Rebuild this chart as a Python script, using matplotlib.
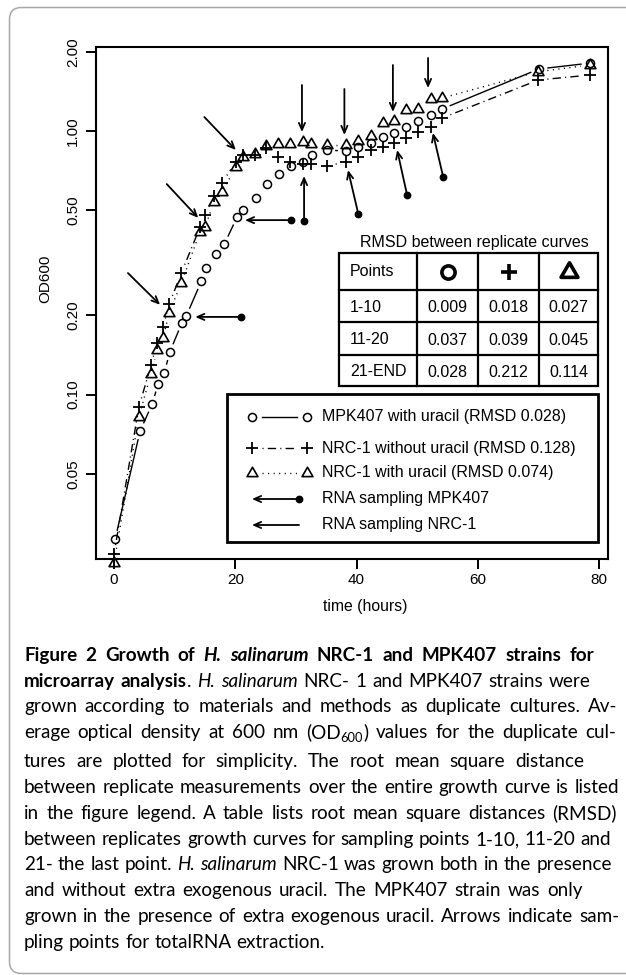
import numpy as np
import matplotlib
matplotlib.use("Agg")
import matplotlib.pyplot as plt
from matplotlib.path import Path
from matplotlib.patches import Rectangle, FancyBboxPatch
from matplotlib.ticker import NullLocator
from matplotlib import font_manager

plt.rcParams['font.family'] = ['Liberation Sans', 'DejaVu Sans']

# ---- data --------------------------------------------------------------
# MPK407 with uracil
t_mpk = [0.2, 4.3, 6.3, 7.3, 8.3, 9.2, 11.2, 11.9, 14.4, 15.2, 16.8, 18.2, 20.3, 21.3,
         23.4, 25.2, 27.2, 29.2, 31.2, 32.6, 35.1, 38.3, 40.3, 42.4, 44.4, 46.2, 48.2,
         50.2, 52.3, 54.1, 70.1, 78.5]
od_mpk = [0.0283, 0.0727, 0.092, 0.110, 0.121, 0.145, 0.187, 0.198, 0.269, 0.302, 0.341,
          0.372, 0.472, 0.501, 0.557, 0.629, 0.687, 0.737, 0.763, 0.811, 0.847, 0.839,
          0.870, 0.900, 0.949, 0.983, 1.035, 1.091, 1.150, 1.212, 1.72, 1.81]
# NRC-1 (same sampling times for both cultures)
t_nrc = [0, 4.1, 6.1, 7.1, 8.1, 9.1, 11.1, 14.2, 15.0, 16.5, 17.8, 20.1, 21.3, 23.3, 25.1,
         27.1, 29.0, 31.1, 32.5, 35.1, 38.3, 40.3, 42.4, 44.4, 46.2, 48.2, 50.2, 52.3,
         54.1, 70.0, 78.5]
od_nrc_nou = [0.0248, 0.0896, 0.129, 0.157, 0.180, 0.220, 0.289, 0.432, 0.480, 0.567,
              0.635, 0.763, 0.811, 0.811, 0.862, 0.797, 0.763, 0.750, 0.750, 0.737, 0.763,
              0.797, 0.847, 0.870, 0.900, 0.941, 0.991, 1.035, 1.120, 1.562, 1.631]
od_nrc_u = [0.0229, 0.0822, 0.120, 0.147, 0.164, 0.204, 0.265, 0.414, 0.432, 0.538, 0.587,
            0.730, 0.797, 0.818, 0.877, 0.893, 0.893, 0.908, 0.893, 0.885, 0.885, 0.916,
            0.957, 1.072, 1.091, 1.201, 1.212, 1.323, 1.334, 1.68, 1.78]

# RNA sampling arrows: (tail time, tail OD, head time, head OD)
arr_mpk = [(21.0, 0.197, 13.4, 0.197), (29.2, 0.459, 21.6, 0.459),
           (31.35, 0.455, 31.35, 0.675), (40.3, 0.484, 38.6, 0.711),
           (48.35, 0.571, 46.7, 0.847), (54.3, 0.669, 52.6, 0.983)]
arr_nrc = [(2.3, 0.289, 7.6, 0.219), (8.7, 0.629, 13.9, 0.468),
           (14.9, 1.130, 20.1, 0.847), (31.0, 1.495, 31.0, 0.991),
           (38.0, 1.443, 38.0, 0.966), (46.0, 1.780, 46.0, 1.181),
           (51.8, 1.893, 51.8, 1.456)]

rmsd_rows = ['1-10', '11-20', '21-END']
rmsd_mpk = ['0.009', '0.037', '0.028']
rmsd_nou = ['0.018', '0.039', '0.212']
rmsd_u = ['0.027', '0.045', '0.114']

legend_labels = ['MPK407 with uracil (RMSD 0.028)',
                 'NRC-1 without uracil (RMSD 0.128)',
                 'NRC-1 with uracil (RMSD 0.074)',
                 'RNA sampling MPK407',
                 'RNA sampling NRC-1']

yticks = [0.05, 0.10, 0.20, 0.50, 1.00, 2.00]
ytick_labels = ['0.05', '0.10', '0.20', '0.50', '1.00', '2.00']
xticks = [0, 20, 40, 60, 80]

# ---- styles ---------------------------------------------------------------
tri = Path([(-1, -0.577), (1, -0.577), (0, 1.155), (-1, -0.577)],
           [Path.MOVETO, Path.LINETO, Path.LINETO, Path.CLOSEPOLY])
dotdash = (0, (0.8, 3, 6, 3))
dotted = (0, (0.8, 3.2))
series = [
    (t_mpk, od_mpk, dict(marker='o', ms=5.8, mew=1.1), '-'),
    (t_nrc, od_nrc_nou, dict(marker='+', ms=8.5, mew=1.3), dotdash),
    (t_nrc, od_nrc_u, dict(marker=tri, ms=9, mew=1.2), dotted),
]

W, H = 626, 975
fig = plt.figure(figsize=(W / 100, H / 100), dpi=100)
ax = fig.add_axes([96 / W, 1 - 559 / H, 512 / W, 512 / H])
ax.set_yscale('log')
ax.set_xlim(-2.97, 81.48)
ax.set_ylim(0.02375, 2.084)
ax.set_xticks(xticks)
ax.set_yticks(yticks)
ax.set_yticklabels(ytick_labels, rotation=90, va='center')
ax.yaxis.set_minor_locator(NullLocator())
ax.tick_params(direction='out', length=7, width=1.4, labelsize=11)
ax.tick_params(axis='x', pad=3)
ax.tick_params(axis='y', pad=4.3)
for sp in ax.spines.values():
    sp.set_linewidth(1.5)
ax.text(-0.0996, 0.547, 'OD600', rotation=90, ha='center', va='center',
        fontsize=11, transform=ax.transAxes)
ax.text(0.525, -0.0918, 'time (hours)', ha='center', va='center',
        fontsize=11.3, transform=ax.transAxes)


def gapped(ax, t, v, gap, **kw):
    # R type="b": segments stop short of the points
    pts = ax.transData.transform(np.column_stack([t, v]))
    inv = ax.transData.inverted()
    for p, q in zip(pts[:-1], pts[1:]):
        d = q - p
        L = np.hypot(d[0], d[1])
        if L <= 2 * gap:
            continue
        u = d / L
        s = inv.transform(np.array([p + u * gap, q - u * gap]))
        ax.plot(s[:, 0], s[:, 1], color='black', **kw)


for t, v, mk, ls in series:
    gapped(ax, t, v, 9, lw=1.0, ls=ls)
    ax.plot(t, v, ls='none', color='black', mfc='none', clip_on=False, **mk)

ar = dict(arrowstyle='->,head_length=0.5,head_width=0.22', lw=1.3, color='black',
          shrinkA=0, shrinkB=0)
for t0, v0, t1, v1 in arr_mpk:
    ax.annotate('', xy=(t1, v1), xytext=(t0, v0), arrowprops=ar)
    ax.plot(t0, v0, 'o', ms=4.6, color='black')
for t0, v0, t1, v1 in arr_nrc:
    ax.annotate('', xy=(t1, v1), xytext=(t0, v0), arrowprops=ar)

# ---- overlay in pixel coordinates: frame, table, legend, caption ---------
ov = fig.add_axes([0, 0, 1, 1], zorder=5)
ov.set_xlim(0, W)
ov.set_ylim(H, 0)
ov.axis('off')

ov.add_patch(FancyBboxPatch((9.5, 7.5), 650, 966, boxstyle='round,pad=0,rounding_size=12',
                            ec='#a8a8a8', fc='none', lw=1.1))

# RMSD table
ov.text(474, 243, 'RMSD between replicate curves', ha='center', va='center', fontsize=11.5)
tx0, tx1 = 339, 598
ty = [253, 290, 322, 355, 386]
cx = [339, 417, 478, 539, 598]
ov.add_patch(Rectangle((tx0, ty[0]), tx1 - tx0, ty[-1] - ty[0], fc='white', ec='black', lw=1.6))
for y in ty[1:-1]:
    ov.plot([tx0, tx1], [y, y], color='black', lw=1.6)
for x in cx[1:-1]:
    ov.plot([x, x], [ty[0], ty[-1]], color='black', lw=1.6)
ov.text(350, 272, 'Points', va='center', fontsize=11.5)
head_mk = [dict(marker='o', ms=9.5, mew=2.6), dict(marker='+', ms=12, mew=2.6),
           dict(marker=tri, ms=14, mew=2.6)]
for i, mk in enumerate(head_mk):
    ov.plot((cx[i + 1] + cx[i + 2]) / 2, 272, ls='none', color='black', mfc='none', **mk)
for r in range(3):
    yc = (ty[r + 1] + ty[r + 2]) / 2 + 1
    ov.text(350, yc, rmsd_rows[r], va='center', fontsize=11.5)
    for c, col in enumerate([rmsd_mpk, rmsd_nou, rmsd_u]):
        ov.text((cx[c + 1] + cx[c + 2]) / 2, yc + 1, col[r], ha='center', va='center',
                fontsize=11.5)

# legend
ov.add_patch(Rectangle((227, 394), 371, 148, fc='white', ec='black', lw=2.0))
rows_y = [417, 448, 473, 499, 525]
for (t, v, mk, ls), y in zip(series, rows_y[:3]):
    ov.plot([252, 307], [y, y], ls='none', color='black', mfc='none', **mk)
    ov.plot([262, 297], [y, y], color='black', lw=1.0, ls=ls)
ov.annotate('', xy=(252, rows_y[3]), xytext=(299, rows_y[3]), arrowprops=ar)
ov.plot(299, rows_y[3], 'o', ms=4.6, color='black')
ov.annotate('', xy=(252, rows_y[4]), xytext=(299, rows_y[4]), arrowprops=ar)
for lab, y in zip(legend_labels, rows_y):
    ov.text(322, y, lab, va='center', fontsize=11.5)

# caption, drawn word by word so the lines can be justified
names = {f.name for f in font_manager.fontManager.ttflist}
cap_font = 'Liberation Sans Narrow' if 'Liberation Sans Narrow' in names else 'Lato'
cap_lines = [
    [("Figure 2 Growth of ", 'b'), ("H. salinarum", 'bi'), (" NRC-1 and MPK407 strains for", 'b')],
    [("microarray analysis", 'b'), (". ", 'r'), ("H. salinarum", 'i'), (" NRC- 1 and MPK407 strains were", 'r')],
    [("grown according to materials and methods as duplicate cultures. Av-", 'r')],
    [("erage optical density at 600 nm (OD", 'r'), ("600", 'sub'), (") values for the duplicate cul-", 'r')],
    [("tures are plotted for simplicity. The root mean square distance", 'r')],
    [("between replicate measurements over the entire growth curve is listed", 'r')],
    [("in the figure legend. A table lists root mean square distances (RMSD)", 'r')],
    [("between replicates growth curves for sampling points 1-10, 11-20 and", 'r')],
    [("21- the last point. ", 'r'), ("H. salinarum", 'i'), (" NRC-1 was grown both in the presence", 'r')],
    [("and without extra exogenous uracil. The MPK407 strain was only", 'r')],
    [("grown in the presence of extra exogenous uracil. Arrows indicate sam-", 'r')],
    [("pling points for totalRNA extraction.", 'r')],
]
cap_base = [661, 687, 712, 738, 767, 793, 819, 845, 870, 896, 922, 948]
cap_right = [594, 591, 617, 616, 584, 619, 617, 611, 612, 583, 619, None]
cap_x0 = 24
STY = {'r': ('normal', 'normal', 1.0), 'b': ('bold', 'normal', 1.0),
       'i': ('normal', 'italic', 1.0), 'bi': ('bold', 'italic', 1.0),
       'sub': ('normal', 'normal', 0.68)}
renderer = fig.canvas.get_renderer()


def kw_of(st, fs):
    w, s, k = STY[st]
    return dict(family=cap_font, fontsize=fs * k, fontweight=w, fontstyle=s)


def split_words(segs):
    words = [[]]
    for txt, st in segs:
        parts = txt.split(' ')
        for k, p in enumerate(parts):
            if k > 0:
                words.append([])
            if p:
                words[-1].append((p, st))
    return [w for w in words if w]


def width_of(txt, st, fs):
    tt = ov.text(0, 0, txt, **kw_of(st, fs))
    w = tt.get_window_extent(renderer).width
    tt.remove()
    return w


def measure(segs, fs):
    words = split_words(segs)
    widths = [[width_of(p, st, fs) for p, st in w] for w in words]
    sp = width_of('a a', 'r', fs) - width_of('aa', 'r', fs)
    return words, widths, sum(sum(w) for w in widths), sp


# size the caption so the short last line has the width it has in the figure
_, _, tot, sp = measure(cap_lines[-1], 10.0)
cap_fs = 10.0 * (325 - cap_x0) / (tot + sp * 4)

for segs, yb, xr in zip(cap_lines, cap_base, cap_right):
    fs = cap_fs
    words, widths, total, sp = measure(segs, fs)
    n = len(words)
    if xr is not None and total + 0.55 * sp * (n - 1) > xr - cap_x0:
        fs *= (xr - cap_x0) / (total + 0.55 * sp * (n - 1))
        words, widths, total, sp = measure(segs, fs)
    gap = sp if xr is None else (xr - cap_x0 - total) / (n - 1)
    x = cap_x0
    for w, ws in zip(words, widths):
        for (p, st), pw in zip(w, ws):
            dy = 4 if st == 'sub' else 0
            ov.text(x, yb + dy, p, va='baseline', ha='left', **kw_of(st, fs))
            x += pw
        x += gap

fig.savefig('out.png', dpi=100)
